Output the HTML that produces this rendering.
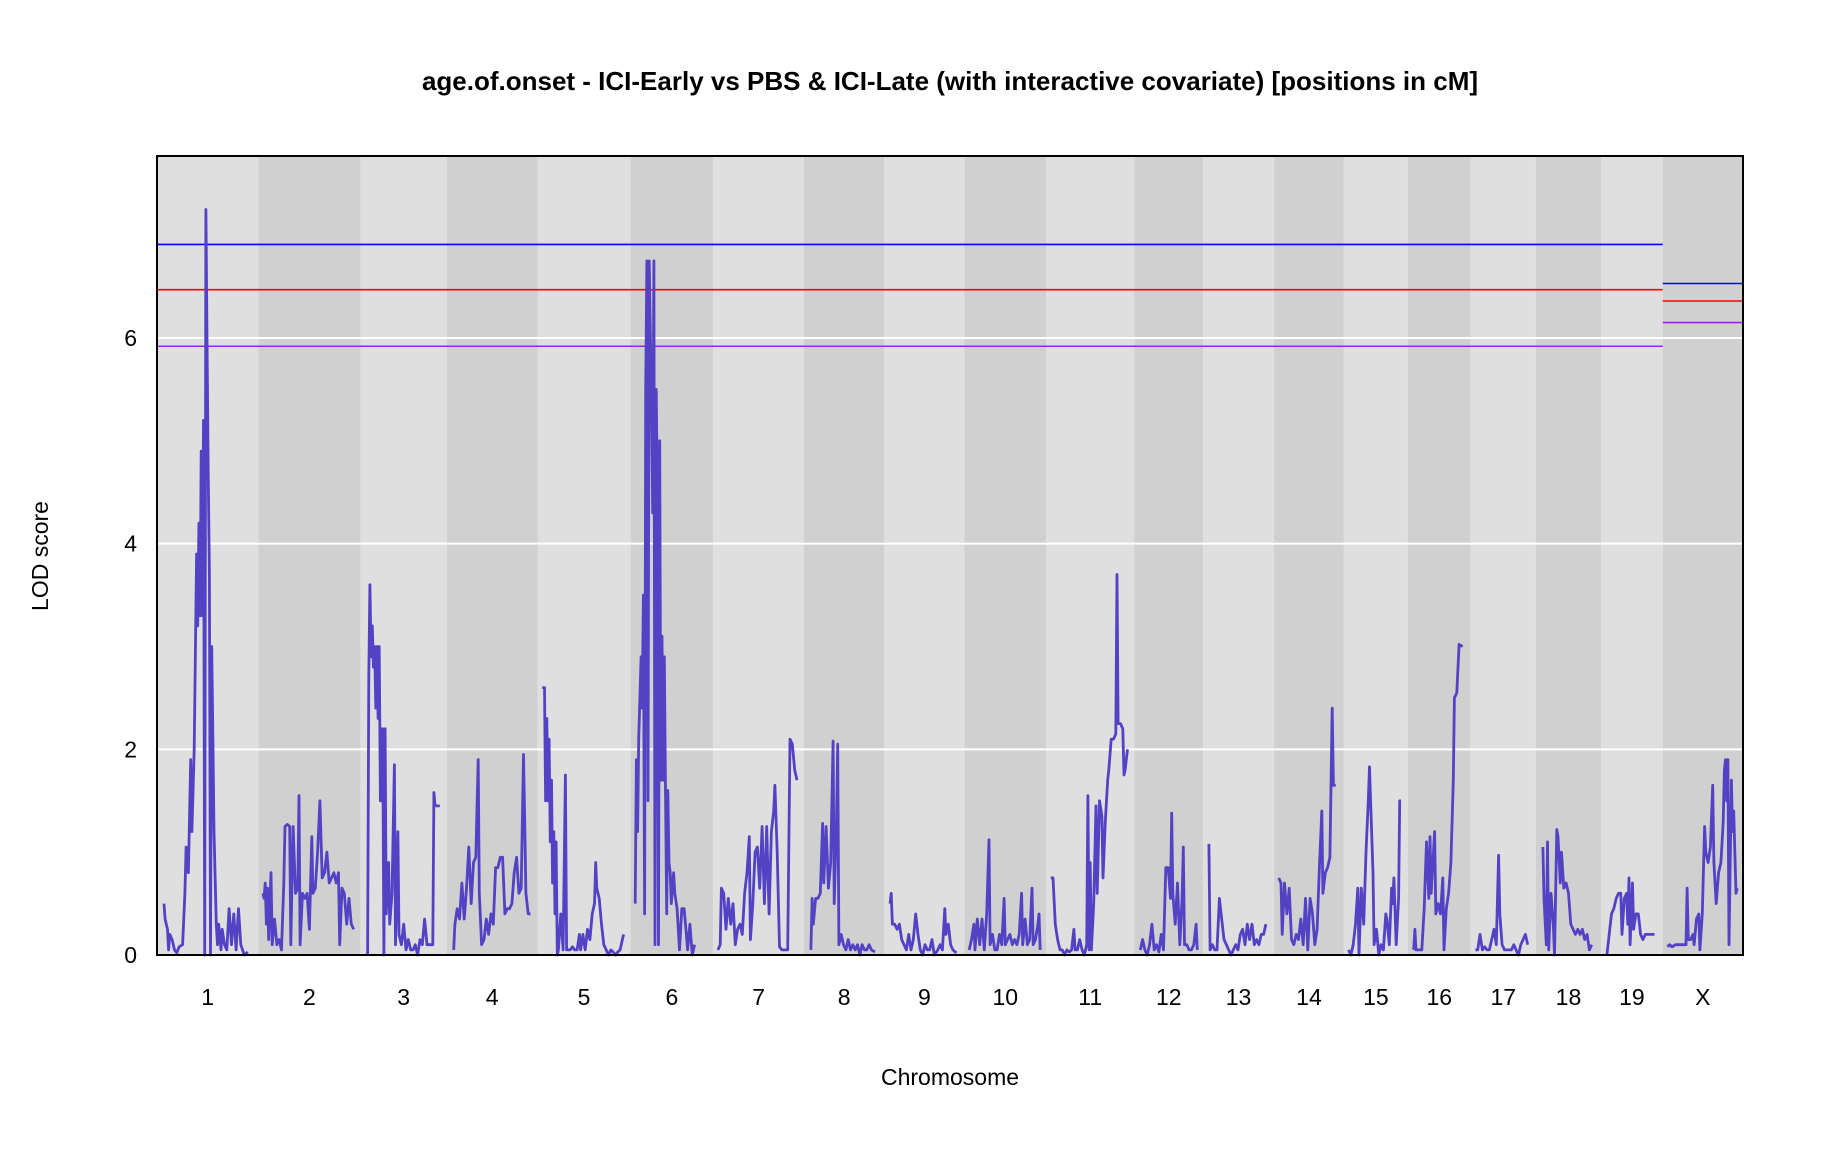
<!DOCTYPE html>
<html><head><meta charset="utf-8"><style>
html,body{margin:0;padding:0;background:#fff;}
svg{display:block;font-family:"Liberation Sans",Arial,sans-serif;}
</style></head><body>
<svg id="chart" width="1824" height="1152" viewBox="0 0 1824 1152" xmlns="http://www.w3.org/2000/svg">
<text x="950" y="90" text-anchor="middle" font-size="26" font-weight="bold">age.of.onset - ICI-Early vs PBS &amp; ICI-Late (with interactive covariate) [positions in cM]</text>
<text x="950" y="1085" text-anchor="middle" font-size="23">Chromosome</text>
<text transform="translate(48,556) rotate(-90)" text-anchor="middle" font-size="23">LOD score</text>
<g id="bands"></g><g id="grid"></g><g id="thr"></g><g id="curves"></g><g id="ticks"></g>
<rect x="157" y="156" width="1586" height="799" fill="none" stroke="#000" stroke-width="2"/>
</svg>
<script>
const chrNames=["1","2","3","4","5","6","7","8","9","10","11","12","13","14","15","16","17","18","19","X"];
const chrLengths=[87,88,74,78,80,71,78,69,69,70,76,59,61,60,55,54,56,56,53,69];
const yTicks=[0,2,4,6];
const thrAuto=[6.91,6.47,5.92];
const thrX=[6.53,6.36,6.15];
const thrColors=["#0000ff","#ff0000","#a020f0"];
const pos1=[6,7,9,10,11,13,15,17,19,22,24,25,27,29,30,32,34,35,36,37,38,39,40,41,42,43,44,45,46,47,48,49,51,52,53,55,56,58,60,62,64,66,68,70,72,75,78];
const lod1=[.5,.35,.25,.05,.2,.15,.05,.02,.08,.1,.6,1.05,.8,1.9,1.2,2.0,3.9,3.2,4.2,3.3,4.9,3.3,5.2,0,7.25,6.0,4.7,3.7,0,3.0,2.1,1.2,.3,.1,.3,.05,.25,.1,.05,.45,.1,.4,.05,.45,.1,0,.03];
const pos2=[4,5,6,7,8,9,11,12,14,16,18,20,22,23,25,27,28,30,32,34,35,36,38,40,42,44,46,47,49,51,53,55,57,59,61,63,65,67,69,70,72,74,76,78,80,82];
const lod2=[.6,.55,.7,.3,.65,.15,.8,.1,.35,.1,.15,.05,.7,1.25,1.27,1.25,.1,1.25,.6,.65,1.55,.1,.6,.55,.6,.25,1.15,.6,.65,1.0,1.5,.75,.8,1.0,.7,.75,.8,.7,.8,.1,.65,.6,.3,.55,.3,.25];
const pos3=[6,7,8,9,10,11,12,13,14,15,16,17,18,19,20,21,22,24,25,27,29,30,32,33,35,37,39,41,43,45,47,49,51,53,55,57,60,62,63,64,66,68];
const lod3=[0,2.7,3.6,2.9,3.2,2.8,3.0,2.4,3.0,2.3,3.0,1.5,2.2,2.2,0,2.2,.4,.9,.3,.6,1.85,.1,1.2,.2,.1,.3,.05,.15,.05,.05,.1,0,.15,.1,.35,.1,.1,.1,1.58,1.45,1.45,1.45];
const pos4=[6,7,9,11,13,15,17,19,21,23,25,27,28,30,32,34,36,38,40,42,44,46,48,50,52,54,56,58,60,62,64,66,67,68,70,72];
const lod4=[.05,.3,.45,.35,.7,.35,.65,1.05,.5,.9,.95,1.9,.6,.1,.15,.35,.2,.4,.3,.85,.85,.95,.95,.4,.45,.45,.5,.8,.95,.6,.65,1.95,1.3,.6,.4,.4];
const pos5=[4,6,7,8,9,10,11,12,13,14,15,16,17,18,20,22,24,25,28,30,32,34,36,37,39,41,43,45,47,49,50,51,53,55,57,59,61,63,65,67,69,71,73,74];
const lod5=[2.6,2.6,1.5,2.3,1.5,2.1,1.1,1.7,.7,1.2,.4,1.1,0,.05,.4,.05,1.75,.05,.05,.08,.05,.05,.2,.05,.2,.05,.25,.15,.4,.5,.9,.65,.55,.3,.1,.05,0,.05,.03,0,.03,.05,.15,.2];
const pos6=[4,5,6,7,9,10,11,12,13,14,15,16,17,18,19,20,21,22,23,24,25,26,27,28,29,30,31,32,33,34,35,37,38,40,42,44,46,48,49,51,53,55];
const lod6=[.5,1.9,1.2,2.1,2.9,2.4,3.5,.4,5.5,6.75,1.5,6.75,6.0,5.3,4.3,6.75,.1,5.5,4.5,.1,5.0,1.7,3.1,1.7,2.9,1.6,.4,1.6,.9,.8,.5,.8,.6,.45,.05,.45,.45,.2,.05,.3,0,.1];
const pos7=[4,6,7,9,11,13,15,17,19,21,23,25,27,29,31,32,34,36,38,40,42,44,46,47,48,50,52,53,55,57,59,62,64,66,68,70,72];
const lod7=[.05,.1,.65,.6,.25,.55,.3,.5,.1,.25,.3,.2,.6,.8,1.15,.15,.5,1.0,1.05,.65,1.25,.5,1.25,.8,.4,1.2,1.4,1.65,1.0,.08,.05,.05,.05,2.1,2.05,1.8,1.7];
const pos8=[6,7,8,10,12,14,16,17,19,21,23,25,26,28,29,30,32,34,36,38,40,42,44,46,48,50,52,54,56,58,61];
const lod8=[.05,.55,.3,.55,.55,.6,1.28,.7,1.25,.65,.9,2.08,.5,1.3,2.05,.1,.2,.1,.05,.15,.05,.1,.05,.1,0,.1,.05,.05,.1,.05,.03];
const pos9=[5,6,7,9,11,13,15,17,19,21,23,25,27,29,31,33,35,37,39,41,43,46,48,50,52,53,55,57,59,62];
const lod9=[.5,.6,.3,.3,.25,.3,.15,.1,.05,.2,.05,.15,.4,.2,.05,0,.1,.05,.05,.15,0,.05,.1,.05,.45,.2,.3,.1,.05,.02];
const pos10=[4,6,8,9,11,13,15,17,19,21,22,24,26,28,30,32,34,35,37,39,41,43,45,47,49,50,52,54,56,58,59,61,63,64,65];
const lod10=[.05,.15,.3,.05,.35,.1,.35,.05,.4,1.12,.1,.2,.05,.05,.2,.1,.55,.1,.15,.2,.1,.15,.1,.2,.6,.1,.35,.1,.15,.65,.1,.15,.3,.4,.05];
const pos11=[4,6,8,10,12,14,16,18,20,22,24,25,27,29,31,33,35,36,37,38,39,41,43,44,46,48,49,51,53,54,56,58,60,61,62,64,66,67,68,70];
const lod11=[.75,.75,.3,.15,.05,.05,0,.05,.03,.05,.25,.05,.05,.15,.05,0,.1,1.55,.05,.9,.05,.5,1.45,.6,1.5,1.35,.75,1.3,1.7,1.8,2.1,2.1,2.15,3.7,2.25,2.25,2.2,1.75,1.8,2.0];
const pos12=[5,7,9,11,13,15,17,19,21,23,25,27,29,31,32,33,35,37,39,41,42,43,45,47,49,51,53,54];
const lod12=[.05,.15,.05,0,.1,.3,.05,.1,.03,.2,.05,.85,.85,.55,1.38,.6,.3,.7,.1,.55,1.05,.1,.1,.05,.05,.1,.3,.05];
const pos13=[5,6,8,10,12,14,16,18,20,22,24,26,28,30,32,34,36,38,40,42,44,46,48,50,52,54];
const lod13=[1.08,.05,.1,.05,.05,.55,.35,.15,.1,.05,0,.05,.1,.05,.2,.25,.1,.3,.15,.3,.1,.15,.1,.2,.2,.3];
const pos14=[4,6,7,9,11,13,15,17,19,21,23,25,27,29,31,33,35,37,39,41,42,44,46,48,50,51,53];
const lod14=[.75,.7,.2,.7,.4,.65,.15,.1,.2,.15,.35,.1,.55,.05,.55,.4,.1,.25,.85,1.4,.6,.8,.85,.95,2.4,1.65,1.65];
const pos15=[4,6,8,10,12,13,15,17,19,21,22,23,25,26,28,30,32,34,36,37,39,41,42,43,45,47,48,49];
const lod15=[.05,0,.1,.3,.65,0,.65,.3,1.0,1.5,1.83,1.5,.8,.1,.25,0,.1,.05,.4,.35,.1,.65,.5,.75,.1,.55,1.5,1.5];
const pos16=[5,6,7,10,12,14,16,18,19,20,21,23,24,26,28,30,31,33,35,37,39,40,42,44,47];
const lod16=[.05,.25,.05,.05,.05,.45,1.1,.55,1.15,.6,.8,1.2,.4,.5,.4,.75,.05,.45,.6,.9,1.7,2.5,2.55,3.02,3.0];
const pos17=[4,6,8,10,12,14,16,18,20,22,24,25,27,29,31,33,35,37,39,41,43,45,47,49];
const lod17=[.05,.05,.2,.05,.08,.05,.05,.15,.25,.1,.97,.4,.1,.05,.05,.05,.05,.1,.05,0,.1,.15,.2,.1];
const pos18=[6,7,9,10,11,13,15,16,18,19,21,22,24,26,28,30,32,34,36,38,40,42,44,46,48];
const lod18=[1.05,.55,.1,1.1,.05,.6,.3,0,1.22,1.15,.7,1.0,.65,.7,.6,.3,.25,.2,.25,.2,.25,.15,.2,.05,.1];
const pos19=[5,7,9,11,13,15,17,18,20,22,23,24,25,27,28,30,32,34,36,38,40,42,46];
const lod19=[0,.2,.4,.45,.55,.6,.6,.2,.55,.6,.3,.75,.1,.7,.25,.4,.4,.2,.15,.2,.2,.2,.2];
const posX=[4,6,8,11,15,18,20,21,22,24,26,27,29,31,32,34,36,37,39,41,43,44,46,48,50,51,52,53,54,55,56,57,59,60,61,63,64];
const lodX=[.08,.1,.08,.1,.1,.1,.1,.65,.15,.15,.2,.1,.35,.4,.05,.4,1.25,1.0,.9,1.05,1.65,.9,.5,.8,.9,1.1,1.3,1.8,1.9,1.5,1.9,.1,1.7,1.2,1.4,.6,.65];
const chrPos=[pos1,pos2,pos3,pos4,pos5,pos6,pos7,pos8,pos9,pos10,pos11,pos12,pos13,pos14,pos15,pos16,pos17,pos18,pos19,posX];
const chrLod=[lod1,lod2,lod3,lod4,lod5,lod6,lod7,lod8,lod9,lod10,lod11,lod12,lod13,lod14,lod15,lod16,lod17,lod18,lod19,lodX];

const NS="http://www.w3.org/2000/svg";
const L=157,R=1743,T=156,B=955,YMAX=7.77;
const total=chrLengths.reduce((a,b)=>a+b,0);
const starts=[];let acc=0;for(const l of chrLengths){starts.push(acc);acc+=l;}
const xs=(c,p)=>L+(starts[c]+p)/total*(R-L);
const ys=v=>B-v/YMAX*(B-T);
function mk(tag,attrs,parent){const e=document.createElementNS(NS,tag);for(const k in attrs)e.setAttribute(k,attrs[k]);document.getElementById(parent).appendChild(e);return e;}

chrNames.forEach((n,i)=>{
  const x0=xs(i,0),x1=xs(i,chrLengths[i]);
  const b=mk('rect',{x:x0,y:T,width:x1-x0,height:B-T,fill:i%2?'#d0d0d0':'#dfdfdf'},'bands');
  
  
  const t=mk('text',{x:(x0+x1)/2,y:1005,'text-anchor':'middle','font-size':23},'ticks');
  t.textContent=n;
  
  
});
yTicks.forEach(v=>{
  const g=mk('line',{x1:L,x2:R,y1:ys(v),y2:ys(v),stroke:'#fff','stroke-width':2},'grid');
  
  
  const t=mk('text',{x:137,y:ys(v)+8,'text-anchor':'end','font-size':23},'ticks');
  t.textContent=v;
  
  
});
const xStart=xs(19,0);
thrAuto.forEach((v,i)=>{
  const l=mk('line',{x1:L,x2:xStart,y1:ys(v),y2:ys(v),stroke:thrColors[i],'stroke-width':1.6},'thr');
  
  
});
thrX.forEach((v,i)=>{
  const l=mk('line',{x1:xStart,x2:R,y1:ys(v),y2:ys(v),stroke:thrColors[i],'stroke-width':1.6},'thr');
  
  
});
chrPos.forEach((ps,c)=>{
  const pts=ps.map((p,j)=>xs(c,p).toFixed(1)+','+ys(chrLod[c][j]).toFixed(1)).join(' ');
  const pl=mk('polyline',{points:pts,fill:'none',stroke:'#5342c4','stroke-width':2.8,'stroke-linejoin':'round'},'curves');
  
  
});
</script>
</body></html>
